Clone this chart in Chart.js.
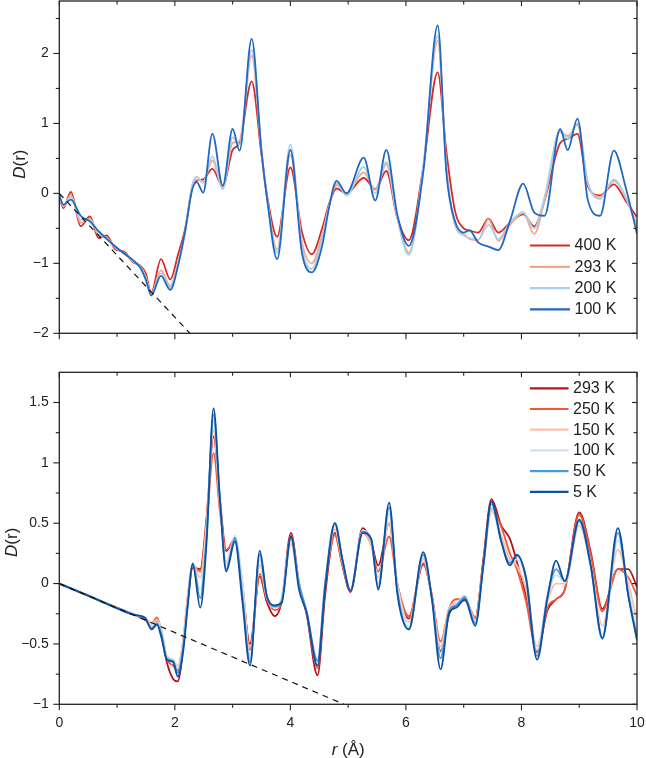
<!DOCTYPE html>
<html>
<head>
<meta charset="utf-8">
<script src="https://cdn.jsdelivr.net/npm/chart.js@4.4.1/dist/chart.umd.min.js"></script>
<style>
  html, body { margin: 0; padding: 0; background: #fff; }
  #wrap { position: relative; width: 646px; height: 758px; }
  canvas { position: absolute; left: 0; }
  #topChart { top: 0; }
  #botChart { top: 360px; }
</style>
</head>
<body>
<div id="wrap">
  <canvas id="topChart" width="646" height="360"></canvas>
  <canvas id="botChart" width="646" height="398"></canvas>
</div>
<script>
// ---- data ----
// top panel: r grid and D(r) per temperature
var rTop = [0, 0.07, 0.2, 0.37, 0.53, 0.68, 0.82, 0.97, 1.12, 1.27,
            1.4, 1.5, 1.59, 1.76, 1.92, 2.06, 2.18, 2.3, 2.38, 2.49,
            2.65, 2.83, 3.0, 3.12, 3.33, 3.5, 3.6, 3.77, 4.0, 4.2,
            4.37, 4.55, 4.67, 4.8, 4.97, 5.27, 5.47, 5.66, 5.85, 6.05,
            6.3, 6.55, 6.7, 6.85, 7.0, 7.1, 7.25, 7.43, 7.6, 7.8,
            8.03, 8.22, 8.4, 8.67, 8.8, 8.97, 9.15, 9.36, 9.6, 9.8, 10];
var top400 = [-0.05, -0.21, 0.02, -0.47, -0.33, -0.64, -0.6, -0.8, -0.83, -0.98,
              -1.03, -1.15, -1.43, -0.94, -1.23, -0.86, -0.5, 0.08, 0.18, 0.2,
              0.35, 0.1, 0.62, 0.72, 1.6, 0.55, -0.05, -0.62, 0.37, -0.55,
              -0.87, -0.5, -0.15, 0.07, 0.0, 0.22, 0.06, 0.32, -0.35, -0.67,
              0.37, 1.73, 0.6, -0.25, -0.5, -0.53, -0.56, -0.36, -0.56, -0.42,
              -0.3, -0.47, -0.1, 0.72, 0.78, 0.85, 0.1, -0.03, 0.13, -0.1, -0.34];
var top293 = [-0.04, -0.19, -0.02, -0.42, -0.36, -0.6, -0.63, -0.78, -0.85, -0.97,
              -1.04, -1.2, -1.44, -1.1, -1.32, -0.98, -0.54, 0.1, 0.2, 0.17,
              0.47, 0.08, 0.72, 0.75, 1.97, 0.6, -0.08, -0.8, 0.55, -0.7,
              -1.0, -0.6, -0.18, 0.12, 0.0, 0.3, 0.05, 0.42, -0.35, -0.85,
              0.37, 2.18, 0.4, -0.45, -0.58, -0.65, -0.67, -0.37, -0.68, -0.45,
              -0.28, -0.58, -0.1, 0.88, 0.82, 0.98, 0.15, -0.05, 0.18, -0.05, -0.45];
var top200 = [-0.03, -0.17, -0.05, -0.38, -0.38, -0.57, -0.64, -0.77, -0.86, -0.96,
              -1.05, -1.22, -1.45, -1.14, -1.35, -1.0, -0.55, 0.12, 0.24, 0.15,
              0.53, 0.06, 0.8, 0.7, 2.05, 0.62, -0.1, -0.85, 0.7, -0.78,
              -1.08, -0.65, -0.18, 0.15, -0.03, 0.38, 0.0, 0.45, -0.35, -0.88,
              0.37, 2.25, 0.35, -0.45, -0.6, -0.64, -0.66, -0.45, -0.65, -0.42,
              -0.27, -0.5, -0.05, 0.9, 0.78, 1.0, 0.15, -0.08, 0.2, -0.05, -0.48];
var top100 = [-0.03, -0.16, -0.09, -0.32, -0.4, -0.54, -0.65, -0.76, -0.86, -0.95,
              -1.06, -1.24, -1.46, -1.18, -1.38, -1.02, -0.53, 0.05, 0.16, 0.01,
              0.85, 0.11, 0.92, 0.61, 2.21, 0.6, -0.1, -0.94, 0.62, -0.85,
              -1.13, -0.75, -0.2, 0.18, 0.0, 0.51, -0.1, 0.62, -0.3, -0.75,
              0.3, 2.4, 0.3, -0.4, -0.56, -0.53, -0.7, -0.76, -0.81, -0.4,
              0.14, -0.27, -0.32, 0.92, 0.62, 1.07, -0.1, -0.32, 0.61, 0.1, -0.58];

// bottom panel
var rBot = [0, 0.5, 1.0, 1.3, 1.48, 1.6, 1.69, 1.77, 1.86, 1.97,
            2.05, 2.15, 2.22, 2.31, 2.44, 2.55, 2.67, 2.78, 2.89, 3.04,
            3.17, 3.3, 3.47, 3.59, 3.73, 3.85, 4.01, 4.15, 4.28, 4.47,
            4.6, 4.77, 4.9, 5.04, 5.25, 5.4, 5.52, 5.71, 5.85, 6.05,
            6.3, 6.45, 6.6, 6.75, 6.87, 7.02, 7.2, 7.34, 7.48, 7.65,
            7.8, 7.92, 8.08, 8.27, 8.45, 8.6, 8.75, 9.0, 9.2, 9.4,
            9.67, 9.85, 10];
var bot293 = [0, -0.1, -0.2, -0.255, -0.3, -0.33, -0.31, -0.43, -0.65, -0.79,
              -0.81, -0.5, -0.15, 0.13, 0.12, 0.55, 1.22, 0.7, 0.27, 0.37,
              -0.05, -0.5, 0.06, -0.15, -0.27, -0.15, 0.42, 0.0, -0.25, -0.76,
              -0.1, 0.42, 0.15, -0.07, 0.46, 0.34, 0.15, 0.5, 0.0, -0.29,
              0.16, -0.1, -0.56, -0.25, -0.18, -0.14, -0.29, 0.2, 0.7, 0.48,
              0.37, 0.18, -0.1, -0.56, -0.22, -0.13, -0.05, 0.59, 0.26, -0.21,
              0.12, 0.12, -0.03];
var bot250 = [0, -0.1, -0.2, -0.255, -0.29, -0.33, -0.28, -0.4, -0.62, -0.68,
              -0.72, -0.45, -0.12, 0.15, 0.1, 0.5, 1.08, 0.6, 0.28, 0.35,
              0.0, -0.55, 0.08, -0.12, -0.22, -0.15, 0.4, 0.0, -0.24, -0.7,
              -0.05, 0.4, 0.15, -0.06, 0.42, 0.32, 0.1, 0.39, 0.0, -0.27,
              0.17, -0.1, -0.48, -0.2, -0.13, -0.13, -0.28, 0.15, 0.62, 0.47,
              0.25, 0.12, -0.15, -0.57, -0.2, -0.13, -0.05, 0.57, 0.24, -0.23,
              0.12, 0.05, -0.1];
var bot150 = [0, -0.1, -0.2, -0.255, -0.29, -0.33, -0.3, -0.38, -0.6, -0.63,
              -0.68, -0.45, -0.12, 0.16, 0.05, 0.5, 1.27, 0.65, 0.18, 0.38,
              0.0, -0.6, 0.15, -0.12, -0.2, -0.12, 0.33, 0.0, -0.23, -0.63,
              0.0, 0.45, 0.18, -0.05, 0.42, 0.32, 0.05, 0.5, 0.0, -0.32,
              0.2, -0.12, -0.52, -0.2, -0.16, -0.12, -0.3, 0.15, 0.6, 0.4,
              0.2, 0.15, -0.05, -0.52, -0.15, 0.0, 0.0, 0.48, 0.15, -0.35,
              0.28, 0.0, -0.3];
var bot100 = [0, -0.1, -0.2, -0.255, -0.29, -0.35, -0.32, -0.4, -0.61, -0.63,
              -0.7, -0.48, -0.15, 0.17, -0.05, 0.45, 1.35, 0.7, 0.15, 0.4,
              0.0, -0.62, 0.2, -0.1, -0.2, -0.12, 0.36, 0.0, -0.23, -0.62,
              0.0, 0.48, 0.2, -0.06, 0.44, 0.35, 0.0, 0.58, 0.0, -0.36,
              0.22, -0.12, -0.58, -0.22, -0.17, -0.1, -0.32, 0.15, 0.63, 0.35,
              0.18, 0.2, 0.02, -0.55, -0.12, 0.07, 0.02, 0.5, 0.14, -0.42,
              0.36, -0.05, -0.4];
var bot50 = [0, -0.1, -0.2, -0.258, -0.29, -0.37, -0.33, -0.42, -0.62, -0.64,
             -0.74, -0.5, -0.18, 0.17, -0.12, 0.4, 1.4, 0.7, 0.12, 0.38,
             -0.1, -0.65, 0.24, -0.1, -0.19, -0.14, 0.38, 0.0, -0.23, -0.64,
             0.0, 0.5, 0.2, -0.06, 0.43, 0.36, -0.03, 0.63, -0.05, -0.38,
             0.24, -0.12, -0.62, -0.22, -0.18, -0.11, -0.33, 0.15, 0.66, 0.35,
             0.17, 0.23, 0.05, -0.6, -0.1, 0.12, 0.02, 0.52, 0.14, -0.46,
             0.42, -0.1, -0.45];
var bot5 = [0, -0.1, -0.205, -0.26, -0.28, -0.38, -0.34, -0.45, -0.63, -0.65,
            -0.77, -0.54, -0.2, 0.16, -0.2, 0.35, 1.45, 0.7, 0.1, 0.35,
            -0.15, -0.68, 0.27, -0.1, -0.18, -0.16, 0.39, -0.05, -0.24, -0.68,
            -0.05, 0.5, 0.2, -0.06, 0.42, 0.37, -0.05, 0.67, -0.08, -0.38,
            0.26, -0.13, -0.71, -0.24, -0.2, -0.13, -0.35, 0.15, 0.68, 0.35,
            0.15, 0.24, 0.04, -0.63, -0.12, 0.19, 0.02, 0.53, 0.15, -0.45,
            0.46, -0.1, -0.47];

// dashed guide lines (end points)
var guideTopR = [0, 2.26], guideTopD = [0, -2];
var guideBotR = [0, 4.93], guideBotD = [0, -1];

var topLabels = ['400 K', '293 K', '200 K', '100 K'];
var botLabels = ['293 K', '250 K', '150 K', '100 K', '50 K', '5 K'];

var xTicks = [0, 2, 4, 6, 8, 10];
var xMinor = [1, 3, 5, 7, 9];
var yTicksTop = [-2, -1, 0, 1, 2];
var yMinorTop = [-1.5, -0.5, 0.5, 1.5, 2.5];
var yTicksBot = [-1, -0.5, 0, 0.5, 1, 1.5];
var yMinorBot = [-0.75, -0.25, 0.25, 0.75, 1.25];

var FONT = '"Liberation Sans", Arial, sans-serif';
var INK = '#222';

function pts(xs, ys) {
    return xs.map(function(x, i) { return { x: x, y: ys[i] }; });
}
function fmt(v) {
    return (v < 0 ? '\u2212' : '') + Math.abs(v);
}

// frame, inner/outer ticks, legend and axis titles
var decor = {
    id: 'decor',
    afterDatasetsDraw: function(chart, args, o) {
        var ctx = chart.ctx, a = chart.chartArea;
        var xs = chart.scales.x, ys = chart.scales.y;
        ctx.save();
        ctx.strokeStyle = INK;
        ctx.lineWidth = 1.3;
        ctx.strokeRect(a.left, a.top, a.right - a.left, a.bottom - a.top);
        function seg(x1, y1, x2, y2) {
            ctx.beginPath(); ctx.moveTo(x1, y1); ctx.lineTo(x2, y2); ctx.stroke();
        }
        ctx.lineWidth = 1.1;
        o.xMajor.forEach(function(v) {
            var p = xs.getPixelForValue(v);
            seg(p, a.bottom, p, a.bottom + 6); seg(p, a.top, p, a.top + 5);
        });
        o.xMinor.forEach(function(v) {
            var p = xs.getPixelForValue(v);
            seg(p, a.bottom, p, a.bottom + 3.5); seg(p, a.top, p, a.top + 3.5);
        });
        o.yMajor.forEach(function(v) {
            var p = ys.getPixelForValue(v);
            seg(a.left - 6, p, a.left, p); seg(a.right - 5, p, a.right, p);
        });
        o.yMinor.forEach(function(v) {
            var p = ys.getPixelForValue(v);
            seg(a.left - 3.5, p, a.left, p); seg(a.right - 3.5, p, a.right, p);
        });

        // legend
        ctx.font = '16px ' + FONT;
        ctx.textBaseline = 'middle';
        ctx.textAlign = 'left';
        var n = 0;
        chart.data.datasets.forEach(function(ds) {
            if (ds.isGuide) return;
            var y = o.legY + n * o.legDy;
            ctx.strokeStyle = ds.borderColor;
            ctx.lineWidth = 2.2;
            seg(o.legX, y, o.legX + o.legLen, y);
            ctx.fillStyle = INK;
            ctx.fillText(ds.label, o.legX + o.legLen + 4.5, y + 0.5);
            n++;
        });

        // y title: italic D + (r)
        ctx.fillStyle = INK;
        ctx.save();
        ctx.translate(o.yTitleX, (a.top + a.bottom) / 2 + o.yTitleDy);
        ctx.rotate(-Math.PI / 2);
        ctx.textBaseline = 'middle';
        ctx.font = 'italic 17px ' + FONT;
        var w1 = ctx.measureText('D').width;
        ctx.font = '17px ' + FONT;
        var w2 = ctx.measureText('(r)').width;
        var sx = -(w1 + w2) / 2;
        ctx.font = 'italic 17px ' + FONT;
        ctx.fillText('D', sx, 0);
        ctx.font = '17px ' + FONT;
        ctx.fillText('(r)', sx + w1, 0);
        ctx.restore();

        // x title: italic r + (Å)
        if (o.xTitleY) {
            ctx.textBaseline = 'middle';
            ctx.font = 'italic 17px ' + FONT;
            var r1 = ctx.measureText('r').width;
            ctx.font = '17px ' + FONT;
            var r2 = ctx.measureText(' (\u00C5)').width;
            var cx = (a.left + a.right) / 2 - (r1 + r2) / 2;
            ctx.font = 'italic 17px ' + FONT;
            ctx.fillText('r', cx, o.xTitleY);
            ctx.font = '17px ' + FONT;
            ctx.fillText(' (\u00C5)', cx + r1, o.xTitleY);
        }
        ctx.restore();
    }
};

function curve(label, xs, ys, color, order) {
    return {
        label: label,
        data: pts(xs, ys),
        borderColor: color,
        borderWidth: 1.8,
        pointRadius: 0,
        fill: false,
        tension: 0.4,
        cubicInterpolationMode: 'monotone',
        order: order
    };
}
function guide(xs, ys) {
    return {
        label: 'guide',
        isGuide: true,
        data: pts(xs, ys),
        borderColor: '#111',
        borderWidth: 1.2,
        borderDash: [6, 5],
        pointRadius: 0,
        fill: false,
        tension: 0,
        order: -1
    };
}

function makeChart(id, datasets, cfg) {
    return new Chart(document.getElementById(id).getContext('2d'), {
        type: 'line',
        data: { datasets: datasets },
        plugins: [decor],
        options: {
            responsive: false,
            animation: false,
            events: [],
            layout: { padding: { top: cfg.padTop, right: 9, left: 0, bottom: 0 } },
            plugins: {
                legend: { display: false },
                tooltip: { enabled: false },
                decor: cfg.decor
            },
            scales: {
                x: {
                    type: 'linear',
                    min: 0, max: 10,
                    grid: { display: false, drawTicks: false },
                    border: { display: false },
                    afterBuildTicks: function(s) { s.ticks = xTicks.map(function(v) { return { value: v }; }); },
                    afterFit: function(s) {
                        s.height = cfg.xHeight;
                        s.paddingLeft = 0; s.paddingRight = 0;
                    },
                    ticks: {
                        display: cfg.xLabels,
                        padding: 10,
                        color: INK,
                        font: { family: FONT, size: 14 },
                        maxRotation: 0,
                        callback: function(v) { return fmt(v); }
                    }
                },
                y: {
                    min: cfg.yMin, max: cfg.yMax,
                    grid: { display: false, drawTicks: false },
                    border: { display: false },
                    afterBuildTicks: function(s) { s.ticks = cfg.yTicks.map(function(v) { return { value: v }; }); },
                    afterFit: function(s) {
                        s.width = 59.3;
                        s.paddingTop = 0; s.paddingBottom = 0;
                    },
                    ticks: {
                        padding: 10.5,
                        color: INK,
                        font: { family: FONT, size: 14 },
                        callback: function(v) { return fmt(v); }
                    }
                }
            }
        }
    });
}

makeChart('topChart', [
    curve(topLabels[0], rTop, top400, '#d62a2b', 3),
    curve(topLabels[1], rTop, top293, '#f6a585', 2),
    curve(topLabels[2], rTop, top200, '#a9cfec', 1),
    curve(topLabels[3], rTop, top100, '#2068c0', 0),
    guide(guideTopR, guideTopD)
], {
    padTop: 1, xHeight: 26.7, xLabels: false,
    yMin: -2, yMax: 2.75, yTicks: yTicksTop,
    decor: {
        xMajor: xTicks, xMinor: xMinor, yMajor: yTicksTop, yMinor: yMinorTop,
        legX: 530, legY: 245.5, legDy: 21.3, legLen: 40,
        yTitleX: 20, yTitleDy: -3, xTitleY: 0
    }
});

makeChart('botChart', [
    curve(botLabels[0], rBot, bot293, '#b3151f', 5),
    curve(botLabels[1], rBot, bot250, '#f05a3c', 4),
    curve(botLabels[2], rBot, bot150, '#fcc1a8', 3),
    curve(botLabels[3], rBot, bot100, '#cfe2f4', 2),
    curve(botLabels[4], rBot, bot50, '#4b9ad8', 1),
    curve(botLabels[5], rBot, bot5, '#0e4f9f', 0),
    guide(guideBotR, guideBotD)
], {
    padTop: 12.3, xHeight: 53.7, xLabels: true,
    yMin: -1, yMax: 1.75, yTicks: yTicksBot,
    decor: {
        xMajor: xTicks, xMinor: xMinor, yMajor: yTicksBot, yMinor: yMinorBot,
        legX: 530, legY: 28.3, legDy: 20.7, legLen: 38.5,
        yTitleX: 12, yTitleDy: 4, xTitleY: 390
    }
});
</script>
</body>
</html>
